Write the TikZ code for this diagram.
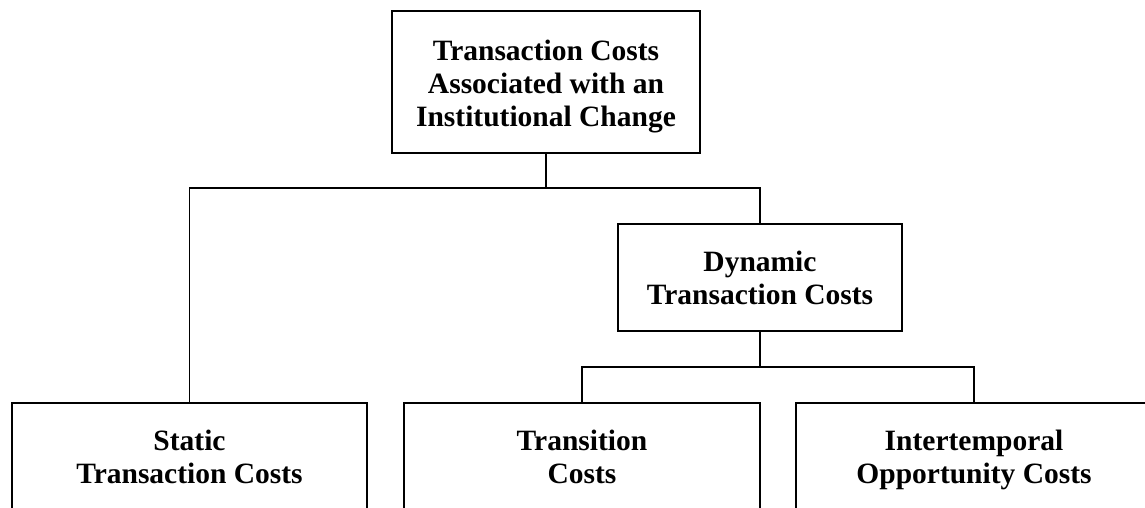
\documentclass[tikz,border=0pt]{standalone}
\usepackage{fontspec}
\setmainfont{Liberation Serif}
\begin{document}
\begin{tikzpicture}[x=1pt,y=-1pt,
  box/.style={draw,line width=1.8pt,rectangle,inner sep=0pt,align=center,
    font=\fontsize{29.5}{33}\selectfont\bfseries},
  conn/.style={line width=1.8pt}]
\useasboundingbox (0,0) rectangle (1145,508);
\clip (0,0) rectangle (1145,508);
\node[box,minimum width=308pt,minimum height=142pt] (top) at (546,82)
  {\rule{0pt}{33pt}Transaction Costs\\Associated with an\\Institutional Change\strut};
\node[box,minimum width=284pt,minimum height=107pt] (dyn) at (760,277.5)
  {\rule{0pt}{31pt}Dynamic\\Transaction Costs\strut};
\node[box,minimum width=355pt,minimum height=114pt] (static) at (189.5,460)
  {\strut Static\\Transaction Costs\strut};
\node[box,minimum width=356pt,minimum height=114pt] (trans) at (582,460)
  {\strut Transition\\Costs\strut};
\node[box,minimum width=356pt,minimum height=114pt] (inter) at (974,460)
  {\strut Intertemporal\\Opportunity Costs\strut};
\coordinate (j1) at (546,188);
\coordinate (j2) at (760,367);
\draw[conn] (top.south) -- (j1);
\draw[conn] (static.north) |- (j1) -| (dyn.north);
\draw[conn] (dyn.south) -- (j2);
\draw[conn] (trans.north) |- (j2) -| (inter.north);
\end{tikzpicture}
\end{document}
